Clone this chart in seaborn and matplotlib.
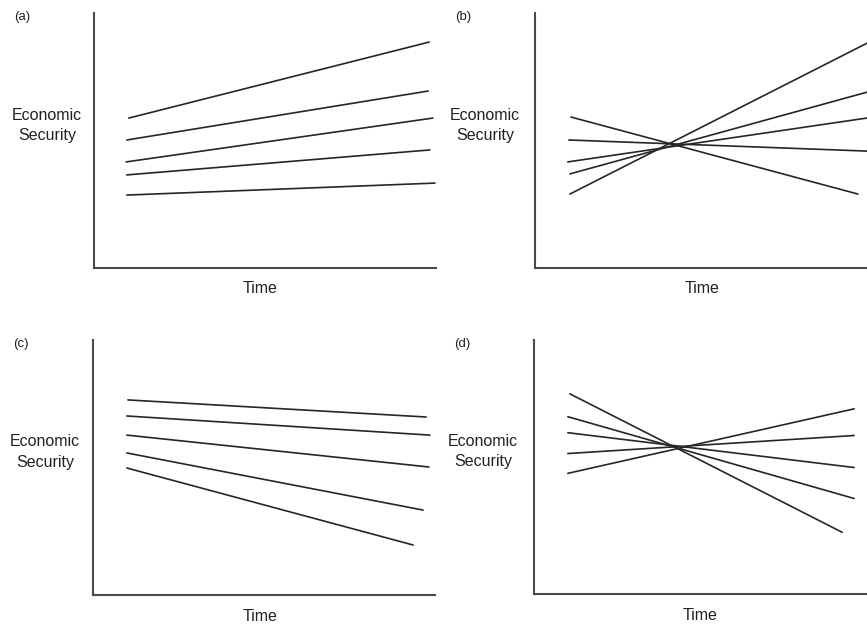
# Four stylised panels: economic security over time (fan / cross-over patterns)
import numpy as np
import pandas as pd
import matplotlib
matplotlib.use('Agg')
import matplotlib.pyplot as plt
import seaborn as sns

# start and end points of each line, in a 0-10 x 0-10 frame
a_x0 = [1.02, 0.96, 0.94, 0.96, 0.96]
a_y0 = [5.88, 5.02, 4.16, 3.65, 2.86]
a_x1 = [9.80, 9.77, 9.91, 9.82, 9.97]
a_y1 = [8.86, 6.94, 5.88, 4.63, 3.33]

b_x0 = [1.02, 1.02, 0.96, 0.99, 1.05]
b_y0 = [2.90, 3.69, 4.16, 5.02, 5.92]
b_x1 = [9.80, 9.80, 9.80, 9.80, 9.44]
b_y1 = [8.88, 6.93, 5.90, 4.58, 2.90]

c_x0 = [1.02, 0.99, 0.99, 0.99, 0.99]
c_y0 = [7.65, 7.02, 6.27, 5.57, 4.98]
c_x1 = [9.74, 9.85, 9.82, 9.65, 9.36]
c_y1 = [6.98, 6.27, 5.02, 3.33, 1.96]

d_x0 = [1.05, 0.99, 0.99, 0.99, 0.99]
d_y0 = [7.88, 6.98, 6.35, 5.53, 4.75]
d_x1 = [9.01, 9.36, 9.36, 9.36, 9.36]
d_y1 = [2.43, 3.76, 4.98, 6.24, 7.29]

panel_tags = ['(a)', '(b)', '(c)', '(d)']
y_title = 'Economic\nSecurity'
x_title = 'Time'


def to_frame(x0, y0, x1, y1):
    rows = []
    for i in range(len(x0)):
        rows.append({'line': i, 't': x0[i], 'security': y0[i]})
        rows.append({'line': i, 't': x1[i], 'security': y1[i]})
    return pd.DataFrame(rows)


panels = [to_frame(a_x0, a_y0, a_x1, a_y1), to_frame(b_x0, b_y0, b_x1, b_y1),
          to_frame(c_x0, c_y0, c_x1, c_y1), to_frame(d_x0, d_y0, d_x1, d_y1)]

sns.set_theme(style='white')
plt.rcParams['font.family'] = ['Liberation Sans', 'DejaVu Sans']

fig = plt.figure(figsize=(8.67, 6.25), dpi=100)
# axes boxes in figure fractions (right column runs off the page like the scan)
boxes = [[0.1084, 0.5712, 0.3945, 0.408], [0.6171, 0.5712, 0.3945, 0.408],
         [0.1073, 0.0480, 0.3945, 0.408], [0.6159, 0.0496, 0.3945, 0.4064]]
ylab_x = [-0.137, -0.146, -0.140, -0.149]
xlab_y = [-0.082, -0.082, -0.086, -0.086]

for k, (df, box) in enumerate(zip(panels, boxes)):
    ax = fig.add_axes(box)
    sns.lineplot(data=df, x='t', y='security', units='line', estimator=None,
                 color='#262626', linewidth=1.2, ax=ax)
    ax.set_xlim(0, 10)
    ax.set_ylim(0, 10)
    ax.set_xticks([])
    ax.set_yticks([])
    sns.despine(ax=ax)
    for s in ['left', 'bottom']:
        ax.spines[s].set_color('#4a4a4a')
        ax.spines[s].set_linewidth(1.5)
    ax.set_xlabel(x_title, fontsize=11.5, color='#222222', va='center')
    ax.xaxis.set_label_coords(0.487, xlab_y[k])
    ax.set_ylabel(y_title, rotation=0, fontsize=11.5, color='#222222',
                  ha='center', va='center', linespacing=1.45)
    ax.yaxis.set_label_coords(ylab_x[k], 0.56)
    ax.text(-0.21, 0.985, panel_tags[k], transform=ax.transAxes, fontsize=9.5,
            color='#222222', ha='center', va='center')

fig.savefig('out.png', dpi=100)
